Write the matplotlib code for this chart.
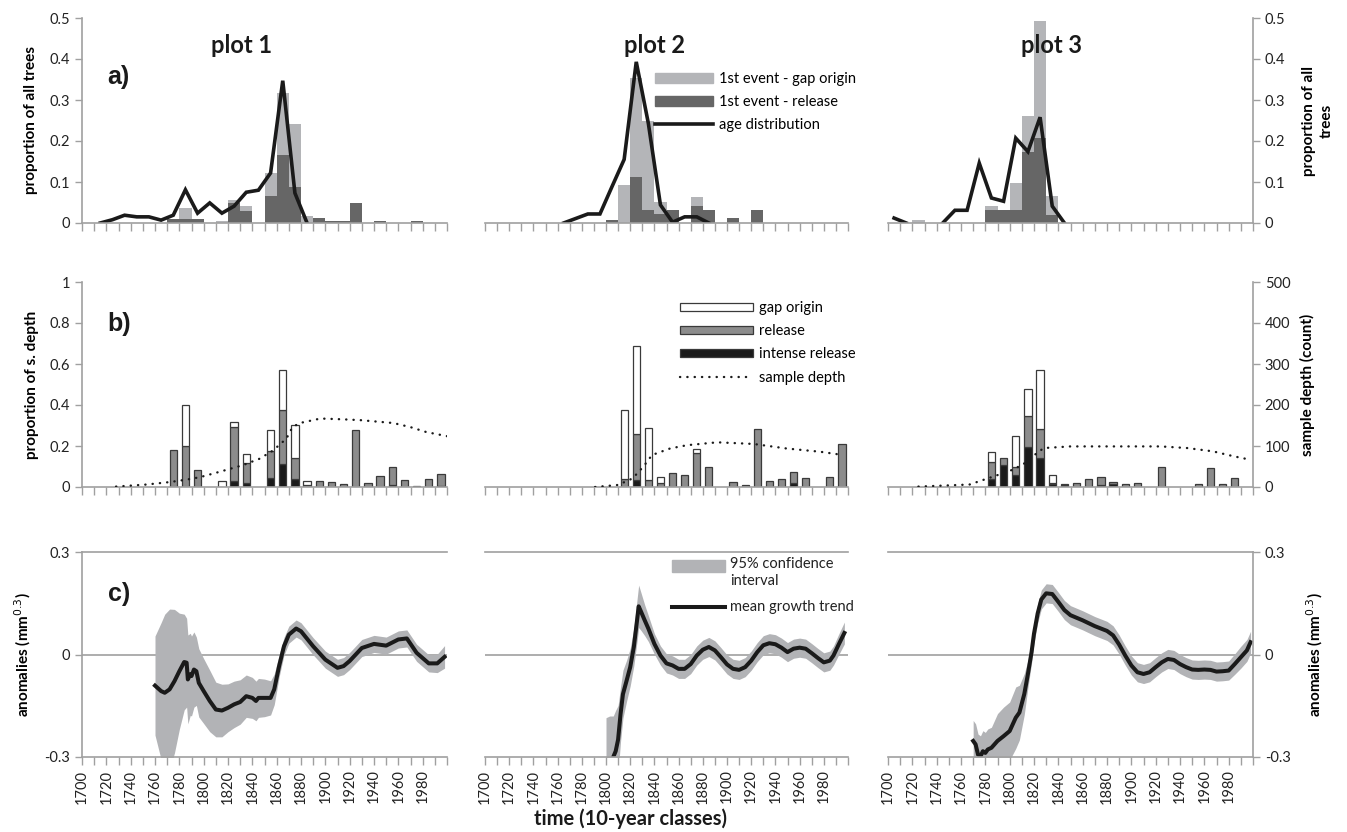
import numpy as np
import matplotlib.pyplot as plt
from matplotlib.patches import Patch, Rectangle
from matplotlib.lines import Line2D

plt.rcParams['font.family'] = ['Lato', 'DejaVu Sans']

nan = np.nan
classes = np.arange(1700, 2000, 10)   # 10-year classes 1700..1990
mid = classes + 5

# a) first event per tree (stacked: release below, gap origin above) and age distribution
rel_a1 = [0, 0, 0, 0, 0, 0, 0, .010, .010, .010, 0, 0, .050, .030, 0, .067, .167, .087, 0, .012, .005, .005, .049, 0, .005, 0, 0, .005, 0, 0]
gap_a1 = [0, 0, 0, 0, 0, 0, 0, 0, .027, 0, 0, .004, .005, .012, 0, .056, .150, .155, .018, 0, 0, 0, 0, 0, 0, 0, 0, 0, 0, 0]
age_a1 = [nan, 0, .008, .019, .015, .015, .007, .019, .081, .024, .049, .024, .041, .075, .080, .122, .347, .073, 0] + [nan] * 11

rel_a2 = [0, 0, 0, 0, 0, 0, 0, 0, 0, 0, .008, 0, .113, .032, .021, .032, 0, .041, .032, 0, .011, 0, .032, 0, 0, 0, 0, 0, 0, 0]
gap_a2 = [0, 0, 0, 0, 0, 0, 0, 0, 0, 0, 0, .093, .240, .218, .031, 0, 0, .022, 0, 0, 0, 0, 0, 0, 0, 0, 0, 0, 0, 0]
age_a2 = [nan] * 6 + [0, .011, .022, .022, .089, .155, .393, .243, .044, .002, .015, .015, 0] + [nan] * 11

rel_a3 = [0, 0, 0, 0, 0, 0, 0, 0, .031, .031, .031, .174, .207, .020, 0, 0, 0, 0, 0, 0, 0, 0, 0, 0, 0, 0, 0, 0, 0, 0]
gap_a3 = [0, 0, .008, 0, 0, 0, 0, 0, .011, 0, .066, .087, .285, .045, 0, 0, 0, 0, 0, 0, 0, 0, 0, 0, 0, 0, 0, 0, 0, 0]
age_a3 = [.012, 0, nan, nan, 0, .031, .031, .146, .061, .053, .207, .174, .258, .041, 0] + [nan] * 15

# b) proportion of sample depth: intense release, release, gap origin (stacked)
int_b1 = [0] * 12 + [.028, .020, 0, .045, .114, .040, 0, 0, 0, 0, 0, 0, 0, .012, 0, 0, 0, .005]
rel_b1 = [0] * 7 + [.182, .200, .085, 0, 0, .265, .097, 0, .130, .260, .100, .012, .030, .026, .015, .280, .020, .052, .088, .033, .006, .040, .060]
gap_b1 = [0] * 8 + [.200, 0, 0, .030, .024, .043, 0, .105, .196, .164, .018] + [0] * 11

int_b2 = [0] * 12 + [.034] + [0] * 12 + [.020, 0, 0, 0, 0]
rel_b2 = [0] * 11 + [.040, .226, .034, .018, .070, .057, .167, .100, 0, .026, .008, .285, .030, .040, .055, .042, 0, .047, .210]
gap_b2 = [0] * 11 + [.335, .428, .256, .032, 0, 0, .020] + [0] * 12

int_b3 = [0] * 8 + [.040, .105, .060, .195, .140, .013, .008, 0, 0, .010, .015] + [0] * 11
rel_b3 = [0] * 8 + [.083, .035, .040, .152, .142, .007, .005, .020, .040, .040, .010, .013, .020, 0, .100, 0, 0, .013, .094, .013, .042, 0]
gap_b3 = [0] * 8 + [.047, 0, .147, .133, .291, .040] + [0] * 16

# sample depth (count)
sd_yr1 = [1728, 1753, 1772, 1786, 1797, 1813, 1832, 1846, 1857, 1868, 1873, 1879, 1896, 1915, 1929, 1956, 1970, 1983, 2000]
sd_n1 = [1, 6, 12, 18, 24, 37, 53, 69, 89, 118, 146, 156, 167, 165, 163, 156, 146, 134, 124]
sd_yr2 = [1791, 1810, 1822, 1831, 1838, 1853, 1867, 1892, 1922, 1949, 1977, 1996]
sd_n2 = [0, 5, 21, 50, 78, 94, 102, 109, 105, 94, 86, 78]
sd_yr3 = [1725, 1767, 1776, 1784, 1800, 1811, 1819, 1828, 1850, 1924, 1946, 1967, 1984, 1997]
sd_n3 = [1, 6, 15, 23, 39, 55, 75, 95, 99, 99, 95, 87, 75, 67]

# c) mean growth trend and half width of the 95% confidence interval
c_yr1 = [1760, 1765, 1768, 1772, 1776, 1780, 1784, 1786, 1787, 1789, 1790, 1792, 1794, 1796, 1800, 1805, 1810, 1815,
         1820, 1825, 1830, 1835, 1840, 1843, 1845, 1850, 1855, 1858, 1862, 1866, 1870, 1876, 1880, 1890, 1900, 1910,
         1915, 1920, 1930, 1940, 1950, 1960, 1967, 1975, 1985, 1992, 1998]
c_mean1 = [-.091, -.107, -.112, -.102, -.078, -.049, -.022, -.024, -.073, -.058, -.063, -.044, -.049, -.083, -.107, -.136,
           -.161, -.164, -.156, -.146, -.139, -.122, -.127, -.136, -.127, -.127, -.127, -.102, -.034, .024, .058, .076,
           .068, .024, -.015, -.039, -.034, -.019, .019, .031, .026, .044, .047, .005, -.026, -.026, -.007]
c_hw1 = [.145, .200, .230, .235, .210, .170, .140, .130, .130, .120, .117, .110, .100, .100, .095, .090, .080, .077,
         .070, .068, .065, .062, .060, .058, .057, .055, .050, .045, .032, .026, .025, .025, .025, .025, .025, .025,
         .025, .025, .025, .025, .025, .025, .025, .025, .025, .027, .033]

c_yr2 = [1800, 1803, 1806, 1808, 1810, 1812, 1814, 1817, 1820, 1823, 1826, 1827, 1829, 1832, 1835, 1840, 1845, 1850,
         1855, 1860, 1865, 1870, 1875, 1880, 1885, 1890, 1895, 1900, 1905, 1910, 1915, 1920, 1925, 1930, 1935, 1940,
         1945, 1950, 1955, 1960, 1965, 1970, 1975, 1980, 1985, 1988, 1992, 1997]
c_mean2 = [-.340, -.320, -.300, -.283, -.249, -.175, -.116, -.077, -.037, .022, .110, .141, .125, .100, .076, .031,
           -.003, -.026, -.032, -.042, -.042, -.028, -.003, .014, .022, .012, -.008, -.029, -.042, -.045, -.037, -.018,
           .007, .027, .033, .030, .020, .007, .017, .020, .017, .004, -.010, -.023, -.018, -.003, .027, .063]
c_hw2 = [.155, .140, .120, .120, .100, .080, .070, .060, .055, .055, .062, .062, .055, .045, .038, .030, .028, .028,
         .028, .028, .028, .028, .028, .028, .028, .028, .028, .028, .028, .028, .028, .028, .028, .028, .028, .028,
         .028, .028, .028, .028, .028, .028, .028, .028, .028, .028, .030, .032]

c_yr3 = [1770, 1772, 1774, 1776, 1778, 1780, 1782, 1785, 1790, 1795, 1800, 1805, 1808, 1812, 1815, 1818, 1820, 1823,
         1826, 1830, 1835, 1840, 1845, 1850, 1860, 1870, 1880, 1885, 1890, 1895, 1900, 1905, 1910, 1915, 1920, 1925,
         1930, 1935, 1940, 1945, 1950, 1955, 1960, 1965, 1970, 1975, 1980, 1985, 1990, 1995, 1998]
c_mean3 = [-.253, -.263, -.293, -.298, -.283, -.288, -.278, -.273, -.253, -.239, -.224, -.185, -.170, -.116, -.057,
           .007, .061, .120, .161, .179, .177, .154, .130, .115, .100, .083, .069, .056, .029, -.003, -.032, -.052,
           -.057, -.052, -.037, -.023, -.013, -.016, -.028, -.037, -.044, -.045, -.044, -.045, -.050, -.049, -.047,
           -.028, -.008, .012, .036]
c_hw3 = [.060, .060, .060, .060, .060, .060, .060, .060, .080, .085, .085, .090, .080, .060, .040, .032, .028, .028,
         .028, .028, .028, .028, .028, .028, .028, .028, .028, .028, .028, .028, .028, .028, .028, .028, .028, .028,
         .028, .028, .028, .028, .028, .028, .028, .028, .028, .028, .028, .030, .032, .032, .032]

plots = ['plot 1', 'plot 2', 'plot 3']
row_a = [(rel_a1, gap_a1, age_a1), (rel_a2, gap_a2, age_a2), (rel_a3, gap_a3, age_a3)]
row_b = [(int_b1, rel_b1, gap_b1, sd_yr1, sd_n1), (int_b2, rel_b2, gap_b2, sd_yr2, sd_n2),
         (int_b3, rel_b3, gap_b3, sd_yr3, sd_n3)]
row_c = [(c_yr1, c_mean1, c_hw1), (c_yr2, c_mean2, c_hw2), (c_yr3, c_mean3, c_hw3)]

GREY = '#a0a0a0'
LIGHT = '#b4b5b8'
DARK = '#666666'
MIDG = '#8c8c8c'
BLACK = '#1a1a1a'
EDGE = '#3a3a3a'
BAND = '#b2b3b6'
TXT = '#222222'
DOTS = (0, (0.1, 3.0))

W, H = 1347, 832
fig = plt.figure(figsize=(W / 100, H / 100), dpi=100)


def box(x0, x1, ytop, ybot):
    return [x0 / W, 1 - ybot / H, (x1 - x0) / W, (ybot - ytop) / H]


cols = [(82, 447), (485, 848), (888, 1253)]
rows = [(18, 223), (282, 487), (552, 757)]
title_x = [0.436, 0.468, 0.449]


def frame(ax, side):
    for s in ax.spines.values():
        s.set_visible(False)
    ax.spines['bottom'].set_visible(True)
    ax.spines['bottom'].set_color(GREY)
    ax.spines['bottom'].set_linewidth(1.2)
    ax.set_xlim(1700, 2000)
    ax.set_xticks(np.arange(1700, 2001, 10))
    ax.tick_params(axis='x', direction='out', length=6, width=1, color=GREY, labelbottom=False)
    ax.tick_params(axis='y', direction='out', length=5, width=1, color=GREY, labelsize=10.5, labelcolor=TXT)
    if side == 'left':
        ax.spines['left'].set_visible(True)
        ax.spines['left'].set_color(GREY)
        ax.spines['left'].set_linewidth(1.2)
    elif side == 'right':
        ax.spines['right'].set_visible(True)
        ax.spines['right'].set_color(GREY)
        ax.spines['right'].set_linewidth(1.2)
        ax.yaxis.tick_right()
        ax.yaxis.set_label_position('right')
    else:
        ax.tick_params(axis='y', left=False, labelleft=False, right=False, labelright=False)


sides = ['left', 'none', 'right']

for k in range(3):
    x0, x1 = cols[k]

    # a) first events and age distribution
    ax = fig.add_axes(box(x0, x1, *rows[0]))
    rel, gap, age = row_a[k]
    ax.bar(mid, rel, width=10, color=DARK, lw=0)
    ax.bar(mid, gap, width=10, bottom=rel, color=LIGHT, lw=0)
    ax.plot(mid, age, color=BLACK, lw=2.6, solid_joinstyle='miter')
    ax.set_ylim(0, 0.5)
    ax.set_yticks([0, .1, .2, .3, .4, .5], ['0', '0.1', '0.2', '0.3', '0.4', '0.5'])
    frame(ax, sides[k])
    ax.text(title_x[k], 0.868, plots[k], transform=ax.transAxes, ha='center', va='center',
            fontsize=17, fontweight='bold', color=BLACK)
    if k == 0:
        ax.set_ylabel('proportion of all trees', fontsize=11, fontweight='bold', labelpad=8)
        ax.text(0.07, 0.68, 'a)', transform=ax.transAxes, fontsize=18, fontweight='bold',
                family='Liberation Sans', color=BLACK)
    if k == 2:
        ax.set_ylabel('proportion of all\ntrees', fontsize=11, fontweight='bold', labelpad=12,
                      rotation=90, linespacing=1.35)
    if k == 1:
        handles = [Patch(color=LIGHT), Patch(color=DARK), Line2D([], [], color=BLACK, lw=2.6)]
        ax.legend(handles, ['1st event - gap origin', '1st event - release', 'age distribution'],
                  loc='upper left', bbox_to_anchor=(655 / W, 1 - 72 / H), bbox_transform=fig.transFigure,
                  frameon=False, fontsize=10.5, handlelength=4.0, handleheight=0.75, handletextpad=0.4,
                  labelspacing=0.62, borderpad=0, borderaxespad=0)

    # b) release events and sample depth
    ax = fig.add_axes(box(x0, x1, *rows[1]))
    ib, rb, gb, syr, sn = row_b[k]
    ib, rb, gb = np.array(ib), np.array(rb), np.array(gb)
    for vals, base, col in [(ib, 0 * ib, BLACK), (rb, ib, MIDG), (gb, ib + rb, 'white')]:
        m = vals > 0
        ax.bar(mid[m], vals[m], width=6, bottom=base[m], color=col, edgecolor=EDGE, lw=0.9)
    ax.set_ylim(0, 1)
    ax.set_yticks([0, .2, .4, .6, .8, 1], ['0', '0.2', '0.4', '0.6', '0.8', '1'])
    ax2 = ax.twinx()
    frame(ax, 'left' if k == 0 else 'none')
    ax2.plot(syr, sn, color=BLACK, lw=1.7, ls=DOTS, dash_capstyle='round')
    ax2.set_ylim(0, 500)
    for s in ax2.spines.values():
        s.set_visible(False)
    if k == 2:
        ax2.spines['right'].set_visible(True)
        ax2.spines['right'].set_color(GREY)
        ax2.spines['right'].set_linewidth(1.2)
        ax2.set_yticks([0, 100, 200, 300, 400, 500])
        ax2.tick_params(axis='y', direction='out', length=5, width=1, color=GREY, labelsize=10.5,
                        labelcolor=TXT)
        ax2.set_ylabel('sample depth (count)', fontsize=11, fontweight='bold', labelpad=7)
    else:
        ax2.set_yticks([])
    if k == 0:
        ax.set_ylabel('proportion of s. depth', fontsize=11, fontweight='bold', labelpad=8)
        ax.text(0.07, 0.76, 'b)', transform=ax.transAxes, fontsize=18, fontweight='bold',
                family='Liberation Sans', color=BLACK)
    if k == 1:
        handles = [Patch(facecolor='white', edgecolor=EDGE, lw=0.9), Patch(facecolor=MIDG, edgecolor=EDGE, lw=0.9),
                   Patch(facecolor=BLACK, edgecolor=EDGE, lw=0.9),
                   Line2D([], [], color=BLACK, lw=1.7, ls=DOTS, dash_capstyle='round')]
        ax.legend(handles, ['gap origin', 'release', 'intense release', 'sample depth'],
                  loc='upper left', bbox_to_anchor=(680 / W, 1 - 301 / H), bbox_transform=fig.transFigure,
                  frameon=False, fontsize=10.5, handlelength=5.0, handleheight=0.5, handletextpad=0.4,
                  labelspacing=0.63, borderpad=0, borderaxespad=0)

    # c) growth anomalies
    ax = fig.add_axes(box(x0, x1, *rows[2]))
    yr, mean, hw = np.array(row_c[k][0]), np.array(row_c[k][1]), np.array(row_c[k][2])
    ax.axhline(0, color=GREY, lw=1.2, zorder=0)
    ax.axhline(0.3, color=GREY, lw=1.2, zorder=0, clip_on=False)
    ax.fill_between(yr, mean - hw, mean + hw, color=BAND, lw=0)
    ax.plot(yr, mean, color=BLACK, lw=2.9)
    ax.set_ylim(-0.3, 0.3)
    ax.set_yticks([-0.3, 0, 0.3], ['-0.3', '0', '0.3'])
    frame(ax, sides[k])
    ax.tick_params(axis='x', labelbottom=True, labelsize=10.5, labelcolor=TXT, rotation=90, pad=3)
    ax.set_xticklabels([str(y) if y % 20 == 0 and y < 2000 else '' for y in range(1700, 2001, 10)])
    if k == 0:
        ax.set_ylabel('anomalies (mm$^{0.3}$)', fontsize=11, fontweight='bold', labelpad=8)
        ax.text(0.07, 0.76, 'c)', transform=ax.transAxes, fontsize=18, fontweight='bold',
                family='Liberation Sans', color=BLACK)
    if k == 2:
        ax.set_ylabel('anomalies (mm$^{0.3}$)', fontsize=11, fontweight='bold', labelpad=10)
    if k == 1:
        ax.add_patch(Rectangle((672 / W, 1 - 572 / H), 53 / W, 12 / H, transform=fig.transFigure,
                               color=BAND, clip_on=False))
        ax.add_line(Line2D([672 / W, 725 / W], [1 - 607 / H, 1 - 607 / H], transform=fig.transFigure,
                           color=BLACK, lw=2.9, clip_on=False))
        fig.text(730 / W, 1 - 557 / H, '95% confidence\ninterval', fontsize=10.5, va='top', ha='left',
                 linespacing=1.3, color=TXT)
        fig.text(730 / W, 1 - 607 / H, 'mean growth trend', fontsize=10.5, va='center', ha='left',
                 color=TXT)

fig.text(630 / W, 1 - 819 / H, 'time (10-year classes)', fontsize=14.5, fontweight='bold',
         ha='center', va='center', color=BLACK)

fig.savefig('out.png', dpi=100)
